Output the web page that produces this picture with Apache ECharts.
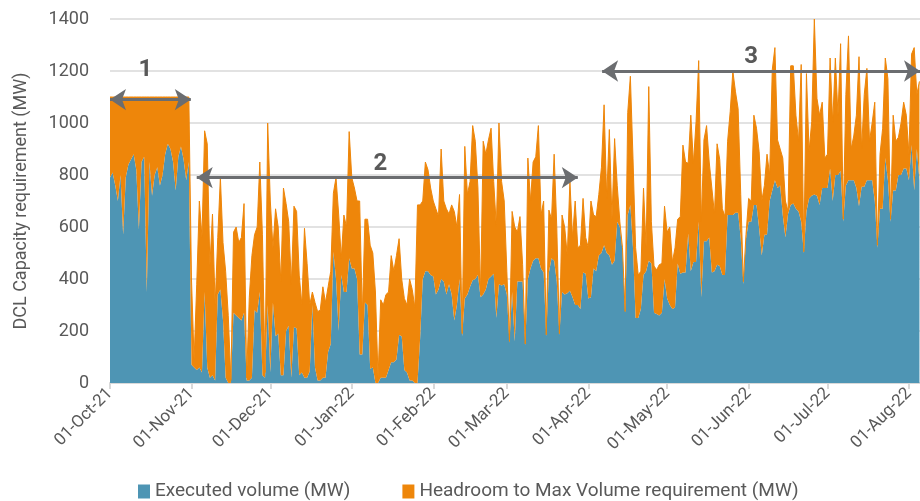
<!DOCTYPE html>
<html>
<head>
<meta charset="utf-8">
<script src="https://cdn.jsdelivr.net/npm/echarts@6/dist/echarts.min.js"></script>
<style>
  html, body { margin: 0; padding: 0; background: #fff; }
  #chart { width: 920px; height: 501px; }
</style>
</head>
<body>
<div id="chart"></div>
<script>
// daily values, 01-Oct-21 .. 05-Aug-22
const firstDay = [2021, 10, 1];

const executed = [
  // Oct
  790,810,760,700,800,570,790,840,860,880,820,590,850,870,350,850,720,800,830,760,800,880,920,900,850,740,870,910,860,780,850,
  // Nov
  70,60,50,60,40,350,60,20,30,10,340,360,240,20,0,0,270,260,250,240,270,10,10,20,280,270,350,30,20,300,
  // Dec
  40,310,180,190,30,30,200,220,20,215,210,30,40,20,20,45,300,60,10,10,20,20,120,150,505,400,200,415,350,350,480,
  // Jan
  440,440,400,110,110,310,300,55,60,0,0,20,20,20,50,80,80,90,185,180,50,40,10,10,0,0,170,400,430,430,415,
  // Feb
  410,340,360,400,390,340,380,340,240,300,400,180,325,340,370,395,400,415,330,340,360,400,410,420,250,380,375,380,
  // Mar
  340,155,350,160,390,390,390,145,400,440,470,480,480,440,425,180,425,480,470,390,185,350,340,345,355,330,300,300,285,425,420,
  // Apr
  325,330,440,430,490,500,530,500,490,455,470,620,600,510,270,646,685,520,250,250,285,415,430,470,460,270,265,260,270,400,
  // May
  325,300,285,290,460,420,425,425,575,430,465,465,620,330,545,545,560,425,430,455,450,415,415,646,646,646,655,655,555,380,555,
  // Jun
  620,620,685,685,595,490,570,570,700,740,780,750,760,645,560,650,685,690,670,660,620,500,660,710,720,725,720,685,750,750,
  // Jul
  750,825,700,800,800,815,620,760,780,780,780,750,680,755,755,780,780,780,700,520,670,670,865,780,620,740,740,800,800,825,825,
  // Aug
  780,915,740,900,780
];

const headroom = [
  // Oct
  310,290,340,400,300,530,310,260,240,220,280,510,250,230,750,250,380,300,270,340,300,220,180,200,250,360,230,190,240,320,250,
  // Nov
  330,30,330,640,520,620,860,430,620,290,220,430,300,410,260,10,310,340,290,320,420,10,320,470,290,330,500,540,20,700,
  // Dec
  660,210,490,410,360,720,490,400,360,465,450,385,260,575,440,255,50,250,265,270,350,290,250,280,225,390,450,65,296,250,487,
  // Jan
  350,310,300,590,150,320,330,475,440,350,20,300,280,320,300,410,350,400,370,220,275,260,390,350,290,685,515,300,420,390,335,
  // Feb
  290,330,280,500,310,330,270,345,420,300,325,10,585,385,405,595,530,335,10,590,520,535,570,355,350,620,400,320,
  // Mar
  90,5,310,440,190,250,65,5,465,260,380,390,510,206,275,5,240,150,410,210,5,296,260,145,420,230,400,220,245,285,140,
  // Apr
  195,370,206,210,235,330,540,210,485,175,470,140,20,10,5,394,495,345,270,165,145,335,90,670,160,180,170,195,190,280,
  // May
  255,300,180,230,170,220,490,425,270,600,380,540,620,290,390,445,290,325,220,465,410,255,225,284,399,554,465,400,170,10,15,
  // Jun
  90,80,345,295,295,210,190,310,100,465,510,185,140,220,140,10,535,530,360,270,605,5,530,180,285,675,375,345,330,115,
  // Jul
  130,425,300,450,230,490,10,350,555,120,170,280,575,145,355,430,150,220,380,10,210,310,385,390,10,290,190,145,200,255,205,
  // Aug
  100,350,550,210,380
];

const arrows = [
  { name: '1', from: '2021-10-01 00:00', to: '2021-10-31 18:00', value: 1090, gap: 18, shift: -5 },
  { name: '2', from: '2021-11-03 00:00', to: '2022-03-28 00:00', value: 790, gap: 2, shift: -7 },
  { name: '3', from: '2022-04-06 06:00', to: '2022-08-05 05:00', value: 1200, gap: 2, shift: -10 }
];

const monthNames = ['Jan','Feb','Mar','Apr','May','Jun','Jul','Aug','Sep','Oct','Nov','Dec'];
const blue = '#4e95b4';
const orange = '#ee860a';
const textGrey = '#595959';
const DAY = 24 * 3600 * 1000;

function ts(s) {
  const p = s.split(/[- :]/).map(Number);
  return new Date(p[0], p[1] - 1, p[2], p[3] || 0, p[4] || 0).getTime();
}
function pad(n) { return n < 10 ? '0' + n : '' + n; }

const days = executed.map(function (v, i) {
  return new Date(firstDay[0], firstDay[1] - 1, firstDay[2] + i).getTime();
});

const chart = echarts.init(document.getElementById('chart'), null, { renderer: 'canvas' });

const option = {
  animation: false,
  textStyle: { fontFamily: 'Roboto' },
  grid: { left: 110, right: 0, top: 19, bottom: 118 },
  legend: {
    left: 133,
    top: 477,
    icon: 'rect',
    itemWidth: 12,
    itemHeight: 14,
    itemGap: 52,
    textStyle: { fontSize: 19, color: textGrey },
    data: ['Executed volume (MW)', 'Headroom to Max Volume requirement (MW)']
  },
  xAxis: {
    type: 'time',
    min: ts('2021-10-01'),
    max: ts('2022-08-05 05:00'),
    minInterval: 28 * DAY,
    maxInterval: 31 * DAY,
    axisLine: { lineStyle: { color: '#d9d9d9', width: 2 } },
    axisTick: { show: true, length: 6, lineStyle: { color: '#d9d9d9', width: 2 } },
    axisLabel: {
      rotate: 45,
      margin: 8,
      fontSize: 17,
      color: textGrey,
      hideOverlap: false,
      formatter: function (v) {
        const d = new Date(v);
        return pad(d.getDate()) + '-' + monthNames[d.getMonth()] + '-' + String(d.getFullYear()).slice(2);
      }
    },
    splitLine: { show: false }
  },
  yAxis: {
    type: 'value',
    min: 0,
    max: 1400,
    interval: 200,
    name: 'DCL Capacity requirement (MW)',
    nameLocation: 'middle',
    nameGap: 80,
    nameTextStyle: { fontSize: 18, color: textGrey },
    axisLine: { show: false },
    axisTick: { show: false },
    axisLabel: {
      fontSize: 18, color: textGrey, margin: 21,
      formatter: function (v) { return String(v); }
    },
    splitLine: { lineStyle: { color: '#d9d9d9', width: 1.5 } }
  },
  series: [
    {
      name: 'Executed volume (MW)',
      type: 'line',
      stack: 'total',
      symbol: 'none',
      itemStyle: { color: blue },
      lineStyle: { width: 0 },
      areaStyle: { color: blue, opacity: 1 },
      data: days.map(function (d, i) { return [d, executed[i]]; })
    },
    {
      name: 'Headroom to Max Volume requirement (MW)',
      type: 'line',
      stack: 'total',
      symbol: 'none',
      itemStyle: { color: orange },
      lineStyle: { width: 1, color: orange },
      areaStyle: { color: orange, opacity: 1 },
      data: days.map(function (d, i) { return [d, headroom[i]]; }),
      markLine: {
        silent: true,
        symbol: ['arrow', 'arrow'],
        symbolSize: 16,
        lineStyle: { color: '#6b6d70', width: 3, type: 'solid' },
        label: {
          show: true,
          position: 'middle',
          formatter: '{b}',
          fontSize: 24,
          fontWeight: 'bold',
          color: textGrey
        },
        data: arrows.map(function (a) {
          return [
            { name: a.name, coord: [ts(a.from), a.value], label: { distance: a.gap, offset: [a.shift, 0] } },
            { coord: [ts(a.to), a.value] }
          ];
        })
      }
    }
  ]
};

chart.setOption(option);
</script>
</body>
</html>
